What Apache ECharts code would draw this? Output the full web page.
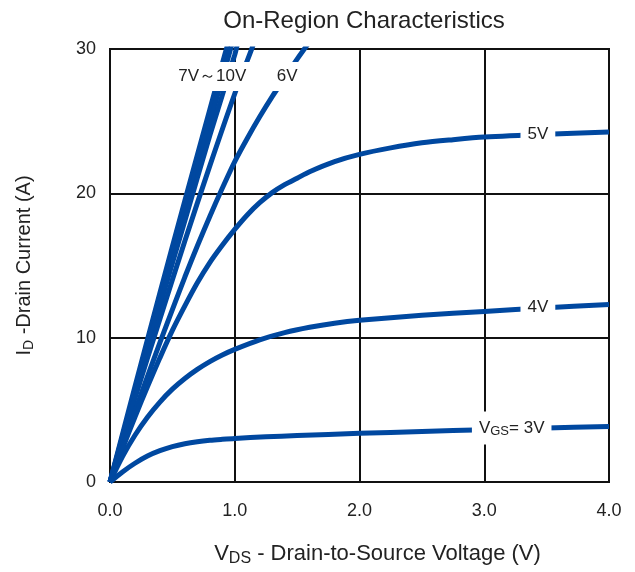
<!DOCTYPE html>
<html>
<head>
<meta charset="utf-8">
<script src="https://cdn.jsdelivr.net/npm/echarts@6/dist/echarts.min.js"></script>
<style>
html,body{margin:0;padding:0;background:#fff;}
#chart{width:635px;height:572px;}
</style>
</head>
<body>
<div id="chart"></div>
<script>
// V_DS (V), I_D (A) pairs
const vgs10 = [[0,0],[0.2,6.6],[0.4,13.1],[0.6,19.5],[0.8,25.8],[0.92,29.6],[0.95,30.5]];
const vgs9  = [[0,0],[0.2,6.3],[0.4,12.6],[0.6,18.8],[0.8,24.9],[0.96,29.8],[0.98,30.4]];
const vgs8  = [[0,0],[0.2,6.1],[0.4,12.2],[0.6,18.1],[0.8,24.0],[1.0,29.6],[1.02,30.3]];
const vgs7  = [[0,0],[0.2,5.8],[0.4,11.3],[0.6,16.7],[0.8,21.9],[1.0,26.9],[1.14,30.1],[1.16,30.6]];
const vgs6  = [[0,0],[0.1,2.45],[0.2,4.9],[0.3,7.3],[0.4,9.65],[0.5,11.95],[0.6,14.2],[0.7,16.35],[0.8,18.4],[0.9,20.35],[1.0,22.2],[1.1,23.8],[1.2,25.3],[1.3,26.7],[1.4,28.0],[1.5,29.3],[1.6,30.5]];
const vgs5  = [[0,0],[0.1,2.3],[0.2,4.5],[0.3,6.6],[0.4,8.6],[0.5,10.5],[0.6,12.2],[0.7,13.8],[0.8,15.2],[0.9,16.4],[1.0,17.5],[1.1,18.5],[1.2,19.35],[1.3,20.05],[1.4,20.6],[1.5,21.05],[1.6,21.5],[1.8,22.2],[2.0,22.7],[2.25,23.15],[2.5,23.5],[2.75,23.72],[3.0,23.9],[3.5,24.1],[4.0,24.25]];
const vgs4  = [[0,0],[0.1,1.76],[0.2,3.24],[0.3,4.49],[0.4,5.54],[0.5,6.43],[0.6,7.17],[0.7,7.8],[0.8,8.34],[0.9,8.8],[1.0,9.19],[1.2,9.85],[1.4,10.35],[1.6,10.72],[1.8,11.0],[2.0,11.2],[2.5,11.55],[3.0,11.82],[3.5,12.07],[4.0,12.3]];
const vgs3  = [[0,0],[0.1,0.7],[0.2,1.3],[0.3,1.8],[0.4,2.17],[0.5,2.45],[0.6,2.65],[0.7,2.79],[0.8,2.89],[0.9,2.96],[1.0,3.02],[1.25,3.13],[1.5,3.22],[2.0,3.37],[2.5,3.5],[3.0,3.62],[3.5,3.74],[4.0,3.85]];

const xTicks = ['0.0','1.0','2.0','3.0','4.0'];
const yTicks = ['0','10','20','30'];

// curve labels: [V_DS, I_D, text]
const curveLabels = [
  [0.82, 28.1, '7V～10V'],
  [1.42, 28.1, '6V'],
  [3.43, 24.1, '5V'],
  [3.43, 12.1, '4V'],
  [3.22, 3.75, '{v|V}{s|GS}{v|= 3V}']
];

const blue = '#0048a0';
const curves = [vgs10, vgs9, vgs8, vgs7, vgs6, vgs5, vgs4, vgs3];

const chart = echarts.init(document.getElementById('chart'));
const font = 'Liberation Sans, Arial, sans-serif';

const series = curves.map(d => ({
  type: 'line', data: d, smooth: 0.3, symbol: 'none', clip: true,
  lineStyle: {color: blue, width: 5, cap: 'butt'}, z: 3
}));
series.push({
  type: 'scatter',
  data: curveLabels.map(l => ({value: [l[0], l[1]], name: l[2]})),
  symbolSize: 0, z: 10,
  itemStyle: {opacity: 1},
  label: {
    show: true, position: 'inside',
    formatter: p => p.name,
    fontFamily: font, fontSize: 17, color: '#222',
    backgroundColor: '#fff', padding: [6, 7, 6, 7],
    rich: {
      v: {fontFamily: font, fontSize: 17, color: '#222'},
      s: {fontFamily: font, fontSize: 13, color: '#222', padding: [8, 0, 0, 0]}
    }
  }
});

chart.setOption({
  animation: false,
  backgroundColor: '#fff',
  title: {
    text: 'On-Region Characteristics', left: 359, top: 4, textAlign: 'center',
    textStyle: {fontFamily: font, fontSize: 24, fontWeight: 'normal', color: '#222'}
  },
  grid: {left: 110, right: 26, top: 49, bottom: 86, show: true, borderColor: '#111', borderWidth: 2, backgroundColor: 'transparent'},
  xAxis: {
    type: 'value', min: 0, max: 4, interval: 1,
    axisLine: {show: false}, axisTick: {show: false},
    splitLine: {show: true, lineStyle: {color: '#111', width: 2}},
    axisLabel: {fontFamily: font, fontSize: 18, color: '#222', margin: 20,
      formatter: v => xTicks[Math.round(v)]},
    name: '{v|V}{s|DS}{v| - Drain-to-Source Voltage (V)}',
    nameLocation: 'middle', nameGap: 59,
    nameTextStyle: {fontFamily: font, fontSize: 22, color: '#222', padding: [0, 0, 0, 36],
      rich: {v: {fontFamily: font, fontSize: 22, color: '#222'},
             s: {fontFamily: font, fontSize: 16, color: '#222', padding: [10, 0, 0, 0]}}}
  },
  yAxis: {
    type: 'value', min: 0, max: 30, interval: 10,
    axisLine: {show: false}, axisTick: {show: false},
    splitLine: {show: true, lineStyle: {color: '#111', width: 2}},
    axisLabel: {fontFamily: font, fontSize: 18, color: '#222', margin: 14,
      formatter: v => yTicks[Math.round(v / 10)]},
    name: '{v|I}{s|D}{v| -Drain Current (A)}',
    nameLocation: 'middle', nameGap: 74, nameRotate: 90,
    nameTextStyle: {fontFamily: font, fontSize: 20, color: '#222',
      rich: {v: {fontFamily: font, fontSize: 20, color: '#222'},
             s: {fontFamily: font, fontSize: 14, color: '#222', padding: [9, 0, 0, 0]}}}
  },
  series: series
});
</script>
</body>
</html>
